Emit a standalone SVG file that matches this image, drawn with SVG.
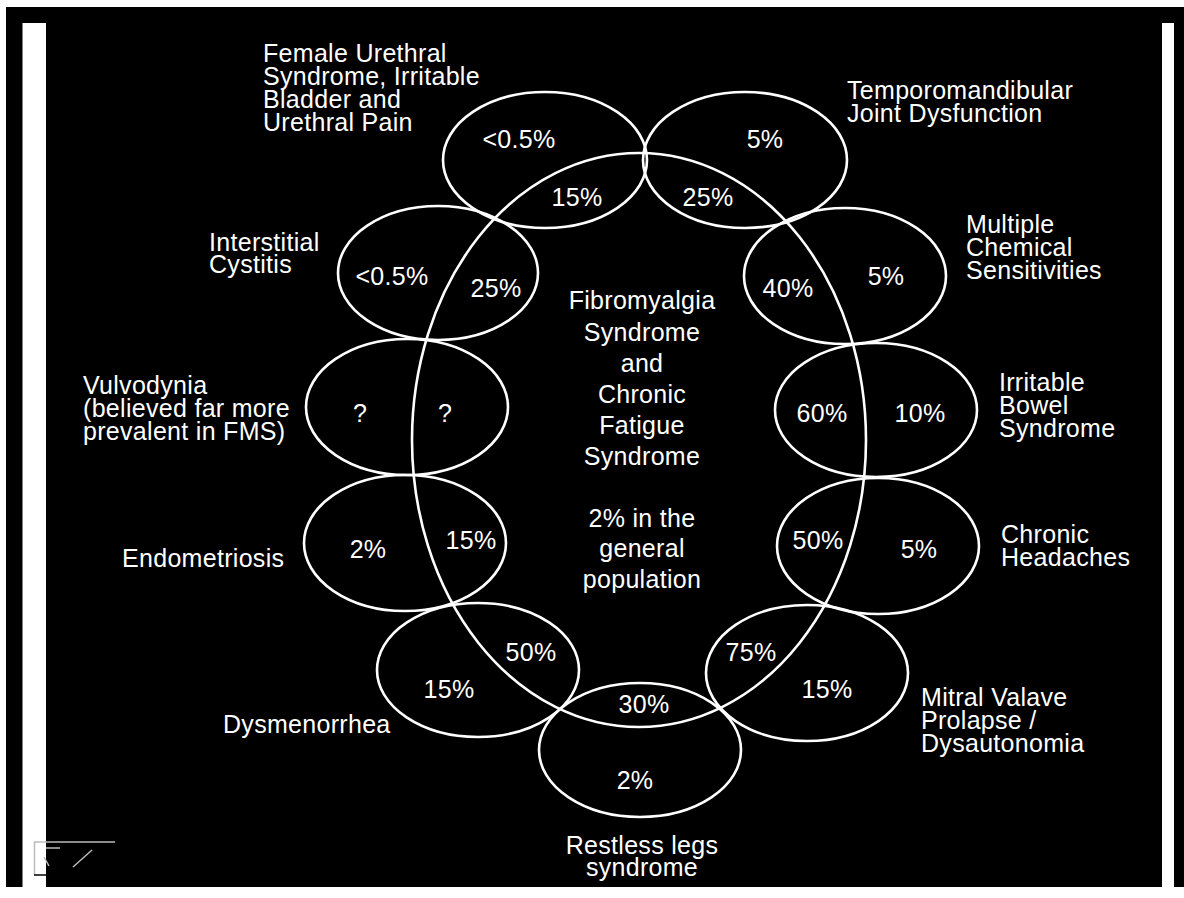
<svg xmlns="http://www.w3.org/2000/svg" width="1184" height="898" viewBox="0 0 1184 898">
<style>
.e{fill:none;stroke:#fff;stroke-width:2.6}
text{font-family:"Liberation Sans",Arial,sans-serif;font-size:25px;fill:#fff;letter-spacing:0.3px}
.c{text-anchor:middle}
.a{stroke:#bbb;stroke-width:1.5;fill:none}
</style>
<rect x="0" y="0" width="1184" height="898" fill="#fff"/>
<rect x="6" y="7" width="1178" height="880" fill="#000"/>
<rect x="22.5" y="23" width="23.5" height="864" fill="#fff"/>
<rect x="1162" y="23" width="12" height="864" fill="#fff"/>
<g id="artifact">
<line class="a" x1="34" y1="842" x2="115" y2="842"/>
<line class="a" x1="34.5" y1="842" x2="34.5" y2="875"/>
<line x1="34" y1="875" x2="46" y2="875" stroke="#000" stroke-width="1.5"/>
<line class="a" x1="46" y1="848" x2="60" y2="848"/>
<line class="a" x1="44" y1="857" x2="49" y2="866"/>
<line class="a" x1="73" y1="867" x2="92" y2="850"/>
</g>
<g id="fms">
<ellipse class="e" cx="639" cy="440" rx="227" ry="287"/>
<text class="c" x="642" y="309">Fibromyalgia</text>
<text class="c" x="642" y="341">Syndrome</text>
<text class="c" x="642" y="372">and</text>
<text class="c" x="642" y="403">Chronic</text>
<text class="c" x="642" y="434">Fatigue</text>
<text class="c" x="642" y="465">Syndrome</text>
<text class="c" x="642" y="527">2% in the</text>
<text class="c" x="642" y="557">general</text>
<text class="c" x="642" y="588">population</text>
</g>
<g id="urethral">
<ellipse class="e" cx="545" cy="160" rx="102" ry="68"/>
<text x="263" y="62">Female Urethral</text>
<text x="263" y="85">Syndrome, Irritable</text>
<text x="263" y="108">Bladder and</text>
<text x="263" y="131">Urethral Pain</text>
<text class="c" x="519" y="148">&lt;0.5%</text>
<text class="c" x="577" y="206">15%</text>
</g>
<g id="tmj">
<ellipse class="e" cx="745" cy="160" rx="102" ry="68"/>
<text x="847" y="99">Temporomandibular</text>
<text x="847" y="122">Joint Dysfunction</text>
<text class="c" x="765" y="148">5%</text>
<text class="c" x="708" y="206">25%</text>
</g>
<g id="cystitis">
<ellipse class="e" cx="438" cy="273" rx="100" ry="67"/>
<text x="209" y="251">Interstitial</text>
<text x="209" y="273">Cystitis</text>
<text class="c" x="392" y="285">&lt;0.5%</text>
<text class="c" x="496" y="297">25%</text>
</g>
<g id="mcs">
<ellipse class="e" cx="845" cy="276" rx="101" ry="68"/>
<text x="966" y="233">Multiple</text>
<text x="966" y="256">Chemical</text>
<text x="966" y="279">Sensitivities</text>
<text class="c" x="788" y="297">40%</text>
<text class="c" x="886" y="285">5%</text>
</g>
<g id="vulvodynia">
<ellipse class="e" cx="407" cy="407" rx="101" ry="68"/>
<text x="83" y="394">Vulvodynia</text>
<text x="83" y="417">(believed far more</text>
<text x="83" y="440">prevalent in FMS)</text>
<text class="c" x="360" y="422">?</text>
<text class="c" x="445" y="422">?</text>
</g>
<g id="ibs">
<ellipse class="e" cx="876" cy="410" rx="101" ry="67"/>
<text x="999" y="391">Irritable</text>
<text x="999" y="414">Bowel</text>
<text x="999" y="437">Syndrome</text>
<text class="c" x="822" y="422">60%</text>
<text class="c" x="920" y="422">10%</text>
</g>
<g id="endometriosis">
<ellipse class="e" cx="405" cy="543" rx="101" ry="68"/>
<text x="122" y="567">Endometriosis</text>
<text class="c" x="368" y="558">2%</text>
<text class="c" x="471" y="549">15%</text>
</g>
<g id="headaches">
<ellipse class="e" cx="878" cy="546" rx="101" ry="68"/>
<text x="1001" y="543">Chronic</text>
<text x="1001" y="566">Headaches</text>
<text class="c" x="818" y="549">50%</text>
<text class="c" x="919" y="558">5%</text>
</g>
<g id="dysmenorrhea">
<ellipse class="e" cx="478" cy="670" rx="101" ry="67"/>
<text x="223" y="733">Dysmenorrhea</text>
<text class="c" x="531" y="661">50%</text>
<text class="c" x="449" y="698">15%</text>
</g>
<g id="mitral">
<ellipse class="e" cx="807" cy="673" rx="101" ry="68"/>
<text x="921" y="706">Mitral Valave</text>
<text x="921" y="729">Prolapse /</text>
<text x="921" y="752">Dysautonomia</text>
<text class="c" x="751" y="661">75%</text>
<text class="c" x="827" y="698">15%</text>
</g>
<g id="restless">
<ellipse class="e" cx="640" cy="750" rx="101" ry="67"/>
<text class="c" x="642" y="854">Restless legs</text>
<text class="c" x="642" y="876">syndrome</text>
<text class="c" x="644" y="713">30%</text>
<text class="c" x="635" y="789">2%</text>
</g>
</svg>
